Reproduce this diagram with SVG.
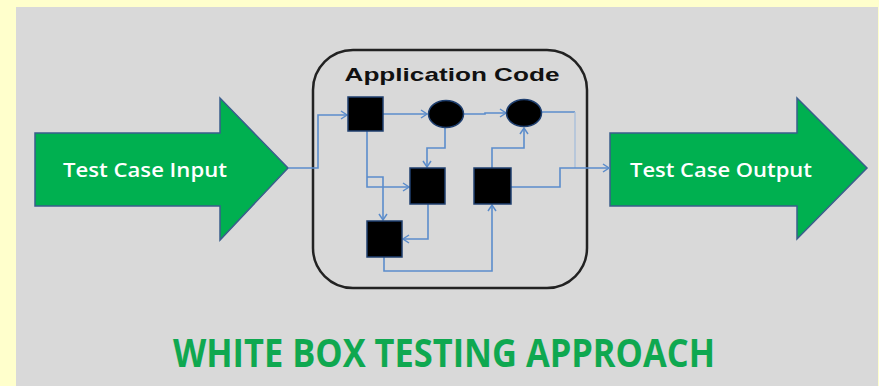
<svg xmlns="http://www.w3.org/2000/svg" width="879" height="386" viewBox="0 0 879 386">
<style>
.bg{fill:#FFFFCC}
.panel{fill:#D9D9D9}
.big{fill:#00B050;stroke:#3A5E8C;stroke-width:1.5}
.blk{fill:#000;stroke:#1F3F6F;stroke-width:1.5}
.ln{fill:none;stroke:#5B8CCB;stroke-width:1.6}
.lt{fill:none;stroke:#A9BFDA;stroke-width:1.4}
.at{font-family:"Open Sans","Liberation Sans",sans-serif;font-weight:600;fill:#fff;font-size:19px}
.ttl{font-family:"Liberation Sans",Arial,sans-serif;font-weight:bold;fill:#111;font-size:19px}
.hd{font-family:"Open Sans","Liberation Sans",sans-serif;font-weight:700;fill:#0FA850;font-size:40px}
</style>
<defs>
<marker id="ah" markerWidth="10" markerHeight="10" refX="8" refY="5" orient="auto" markerUnits="userSpaceOnUse">
<polyline points="2,1 8,5 2,9" fill="none" stroke="#5B8CCB" stroke-width="1.5"/>
</marker>
</defs>
<rect class="bg" x="0" y="0" width="879" height="386"/>
<rect class="panel" x="16" y="7" width="862" height="379"/>

<g id="input-arrow">
<polygon class="big" points="35,133 220,133 220,98 288,168 220,240 220,206 35,206"/>
<text class="at" x="145" y="177" text-anchor="middle" textLength="164" lengthAdjust="spacingAndGlyphs">Test Case Input</text>
</g>

<g id="output-arrow">
<polygon class="big" points="610,133 797,133 797,98 867,168 797,239 797,206 610,206"/>
<text class="at" x="721" y="177" text-anchor="middle" textLength="182" lengthAdjust="spacingAndGlyphs">Test Case Output</text>
</g>

<g id="application-code">
<rect x="313" y="50" width="274" height="238" rx="40" ry="40" fill="none" stroke="#222" stroke-width="2.5"/>
<text class="ttl" x="452" y="81" text-anchor="middle" textLength="215" lengthAdjust="spacingAndGlyphs">Application Code</text>
</g>

<g id="connectors">
<polyline class="ln" points="288,168 318,168 318,115 347,115" marker-end="url(#ah)"/>
<polyline class="ln" points="383,114 427,114" marker-end="url(#ah)"/>
<polyline class="ln" points="463,114 485,114 485,113 506,113" marker-end="url(#ah)"/>
<polyline class="ln" points="541,112 575,112"/>
<polyline class="lt" points="575,112 575,168"/>
<polyline class="ln" points="511,187 560,187 560,168 609,168" marker-end="url(#ah)"/>
<polyline class="ln" points="367,131 367,187 409,187" marker-end="url(#ah)"/>
<polyline class="ln" points="367,177 383,177 383,220" marker-end="url(#ah)"/>
<polyline class="ln" points="445,127 445,148 427,148 427,167" marker-end="url(#ah)"/>
<polyline class="ln" points="428,204 428,239 403,239" marker-end="url(#ah)"/>
<polyline class="ln" points="384,257 384,271 492,271 492,205" marker-end="url(#ah)"/>
<polyline class="ln" points="492,168 492,148 524,148 524,128" marker-end="url(#ah)"/>
</g>

<g id="sq1"><rect class="blk" x="348" y="97" width="35" height="34"/></g>
<g id="ell1"><ellipse class="blk" cx="446" cy="114" rx="17.5" ry="13.5"/></g>
<g id="ell2"><ellipse class="blk" cx="524" cy="113" rx="17.5" ry="13.5"/></g>
<g id="sq2"><rect class="blk" x="410" y="168" width="35" height="36"/></g>
<g id="sq3"><rect class="blk" x="474" y="168" width="37" height="36"/></g>
<g id="sq4"><rect class="blk" x="367" y="221" width="35" height="36"/></g>

<g id="title">
<text class="hd" x="444" y="367" text-anchor="middle" textLength="542" lengthAdjust="spacingAndGlyphs">WHITE BOX TESTING APPROACH</text>
</g>
</svg>
